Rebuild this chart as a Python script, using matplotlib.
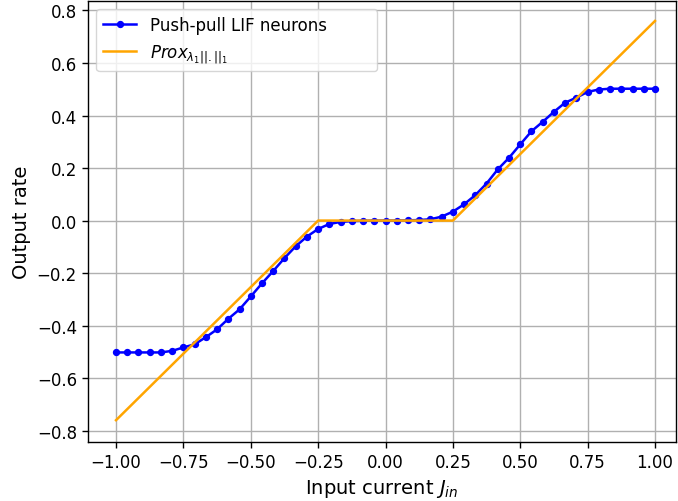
import matplotlib
matplotlib.use("Agg")
import matplotlib.pyplot as plt
import numpy as np

# input currents (49 samples, step 1/24)
j_in = np.linspace(-1, 1, 49)

# push-pull LIF output rate
rate = [-0.502, -0.502, -0.502, -0.502, -0.502, -0.496, -0.483, -0.471,
        -0.444, -0.414, -0.374, -0.338, -0.289, -0.239, -0.192, -0.143,
        -0.098, -0.061, -0.032, -0.013, -0.005, -0.002, -0.001, 0.0,
        0.0,
        0.0, 0.001, 0.002, 0.005, 0.015, 0.034, 0.062, 0.097,
        0.141, 0.195, 0.239, 0.290, 0.340, 0.376, 0.414, 0.449,
        0.468, 0.490, 0.499, 0.502, 0.502, 0.502, 0.502, 0.502]

# proximal operator (soft threshold), corner points
prox_x = [-1.0, -0.25, 0.25, 1.0]
prox_y = [-0.76, 0.0, 0.0, 0.76]

fig = plt.figure(figsize=(6.78, 5.02), dpi=100)
ax = fig.add_axes([88 / 678, 1 - 443 / 502, 588 / 678, 441 / 502])

ax.plot(j_in, rate, 'b.-', markersize=8.5, linewidth=1.8, label='Push-pull LIF neurons')
ax.plot(prox_x, prox_y, color='orange', linewidth=1.8,
        label=r'$Prox_{\lambda_1||.||_1}$')

ax.set_xlim(-1.104, 1.078)
ax.set_ylim(-0.843, 0.836)
ax.set_xticks([-1.0, -0.75, -0.5, -0.25, 0.0, 0.25, 0.5, 0.75, 1.0])
ax.grid(True, linewidth=1.0)
ax.tick_params(labelsize=12, width=1.0, length=4.5)
for s in ax.spines.values():
    s.set_linewidth(1.0)
ax.set_xlabel(r'Input current $J_{in}$', fontsize=14)
ax.set_ylabel('Output rate', fontsize=14)
ax.legend(loc='upper left', fontsize=12, bbox_to_anchor=(0, 0, 0.506, 1),
          mode='expand')

fig.savefig('out.png', dpi=100)
